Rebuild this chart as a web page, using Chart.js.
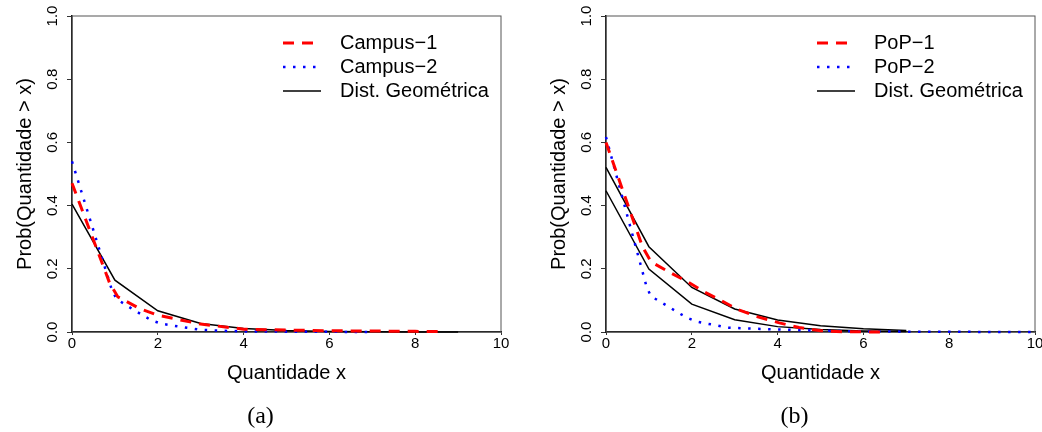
<!DOCTYPE html>
<html>
<head>
<meta charset="utf-8">
<script src="https://cdn.jsdelivr.net/npm/chart.js@4.4.1/dist/chart.umd.min.js"></script>
<style>
  html, body { margin: 0; padding: 0; background: #fff; overflow: hidden; }
  #wrap { position: relative; width: 1042px; height: 432px; overflow: hidden; }
  .panel { position: absolute; top: 0; width: 521px; height: 432px; }
  .caption { position: absolute; top: 403px; left: 0; width: 521px; text-align: center;
             font: 24px/24px "Liberation Serif", serif; color: #000; }
</style>
</head>
<body>
<div id="wrap">
  <div class="panel" style="left:0">
    <canvas id="chartA" width="521" height="432"></canvas>
    <div class="caption">(a)</div>
  </div>
  <div class="panel" style="left:534px">
    <canvas id="chartB" width="521" height="432"></canvas>
    <div class="caption">(b)</div>
  </div>
</div>
<script>
// axes
const xTicks = [0, 2, 4, 6, 8, 10];
const yTicks = [0, 0.2, 0.4, 0.6, 0.8, 1.0];
const yTickLabels = ['0.0', '0.2', '0.4', '0.6', '0.8', '1.0'];

// panel (a)
const campus1X = [0, 0.88, 1.07, 1.58, 2, 3, 4, 5, 6, 7, 8, 8.7];
const campus1Y = [0.471, 0.154, 0.111, 0.074, 0.053, 0.025, 0.009, 0.006, 0.004, 0.003, 0.002, 0.001];
const campus2X = [0, 0.93, 1.04, 1.45, 1.85, 2.09, 2.5, 3, 3.5, 4, 5, 6, 7];
const campus2Y = [0.54, 0.133, 0.104, 0.069, 0.037, 0.026, 0.017, 0.007, 0.004, 0.002, 0.001, 0.0005, 0];
const geoAX = [0, 1, 2, 3, 4, 5, 6, 7, 8, 9];
const geoAY = [0.405, 0.164, 0.067, 0.027, 0.011, 0.0045, 0.0018, 0.0007, 0.0003, 0.0001];

// panel (b)
const pop1X = [0, 0.85, 1.05, 1.47, 1.9, 2.29, 2.68, 3.07, 3.54, 4.04, 4.5, 5, 5.5, 6, 6.5];
const pop1Y = [0.60, 0.27, 0.222, 0.19, 0.159, 0.127, 0.10, 0.071, 0.048, 0.029, 0.014, 0.004, 0.001, 0.0005, 0];
const pop2X = [0, 0.95, 1.05, 1.26, 1.46, 1.67, 1.88, 2.09, 2.33, 2.58, 2.82, 3.3, 4, 5, 6, 7, 8, 9, 10];
const pop2Y = [0.617, 0.141, 0.113, 0.096, 0.08, 0.062, 0.046, 0.034, 0.027, 0.021, 0.014, 0.011, 0.008, 0.004, 0.002, 0.001, 0.0005, 0.0003, 0.0002];
const geoBX = [0, 1, 2, 3, 4, 5, 6, 7];
const geoB1Y = [0.521, 0.270, 0.141, 0.073, 0.038, 0.020, 0.010, 0.005];
const geoB2Y = [0.447, 0.199, 0.088, 0.039, 0.017, 0.008, 0.0035, 0.0016];

const FONT = 'Liberation Sans';

function points(xs, ys) {
  return xs.map((x, i) => ({ x: x, y: ys[i] }));
}

function redDash(label, xs, ys) {
  return { label: label, data: points(xs, ys), borderColor: '#ff0000', borderWidth: 3, borderDash: [11, 8] };
}
function blueDot(label, xs, ys) {
  return { label: label, data: points(xs, ys), borderColor: '#0000ff', borderWidth: 2.5, borderDash: [2.5, 7.5] };
}
function blackLine(label, xs, ys) {
  return { label: label, data: points(xs, ys), borderColor: '#000000', borderWidth: 1.5 };
}

// box around the plot + legend in the top right corner
const framePlugin = {
  id: 'frame',
  beforeDatasetsDraw(chart) {
    const a = chart.chartArea;
    const ctx = chart.ctx;
    ctx.save();
    ctx.strokeStyle = '#555';
    ctx.lineWidth = 1;
    ctx.strokeRect(a.left, a.top, a.right - a.left, a.bottom - a.top);
    ctx.restore();
  },
  afterDatasetsDraw(chart, args, opts) {
    const a = chart.chartArea;
    const ctx = chart.ctx;
    ctx.save();
    ctx.font = '20px "' + FONT + '"';
    ctx.textBaseline = 'middle';
    ctx.fillStyle = '#000';
    opts.items.forEach((idx, i) => {
      const ds = chart.data.datasets[idx];
      const y = a.top + 27 + i * 24;
      ctx.strokeStyle = ds.borderColor;
      ctx.lineWidth = ds.borderWidth;
      ctx.setLineDash(ds.borderDash || []);
      ctx.beginPath();
      ctx.moveTo(a.left + 211, y);
      ctx.lineTo(a.left + 249, y);
      ctx.stroke();
      ctx.fillText(ds.label, a.left + 268, y);
    });
    ctx.restore();
  }
};

function makeChart(id, datasets, legendItems) {
  return new Chart(document.getElementById(id), {
    type: 'line',
    data: { datasets: datasets },
    plugins: [framePlugin],
    options: {
      responsive: false,
      animation: false,
      layout: { padding: { left: 0, right: 20, top: 16, bottom: 30 } },
      datasets: { line: { pointRadius: 0, tension: 0, fill: false, clip: false } },
      plugins: {
        legend: { display: false },
        tooltip: { enabled: false },
        frame: { items: legendItems }
      },
      scales: {
        x: {
          type: 'linear', min: 0, max: 10,
          afterBuildTicks: s => { s.ticks = xTicks.map(v => ({ value: v })); },
          afterFit: s => { s.height = 70; },
          grid: { drawOnChartArea: false, tickLength: 3, tickColor: '#333' },
          border: { color: '#000', width: 1.5 },
          ticks: { color: '#000', padding: 0, maxRotation: 0, autoSkip: false,
                   font: { family: FONT, size: 15 } },
          title: { display: true, text: 'Quantidade x', color: '#000',
                   font: { family: FONT, size: 20 }, padding: { top: 0, bottom: 17 } }
        },
        y: {
          min: 0, max: 1,
          afterBuildTicks: s => { s.ticks = yTicks.map(v => ({ value: v })); },
          afterFit: s => { s.width = 72; },
          grid: { drawOnChartArea: false, tickLength: 5, tickColor: '#333' },
          border: { color: '#000', width: 1.5 },
          ticks: { color: '#000', padding: 4, minRotation: 90, maxRotation: 90, crossAlign: 'center',
                   autoSkip: false, font: { family: FONT, size: 15 },
                   callback: (v, i) => yTickLabels[i] },
          title: { display: true, text: 'Prob(Quantidade > x)', color: '#000',
                   font: { family: FONT, size: 20 }, padding: { top: 13, bottom: 0 } }
        }
      }
    }
  });
}

makeChart('chartA', [
  redDash('Campus\u22121', campus1X, campus1Y),
  blueDot('Campus\u22122', campus2X, campus2Y),
  blackLine('Dist. Geométrica', geoAX, geoAY)
], [0, 1, 2]);

makeChart('chartB', [
  redDash('PoP\u22121', pop1X, pop1Y),
  blueDot('PoP\u22122', pop2X, pop2Y),
  blackLine('Dist. Geométrica', geoBX, geoB1Y),
  blackLine('Dist. Geométrica', geoBX, geoB2Y)
], [0, 1, 2]);
</script>
</body>
</html>
